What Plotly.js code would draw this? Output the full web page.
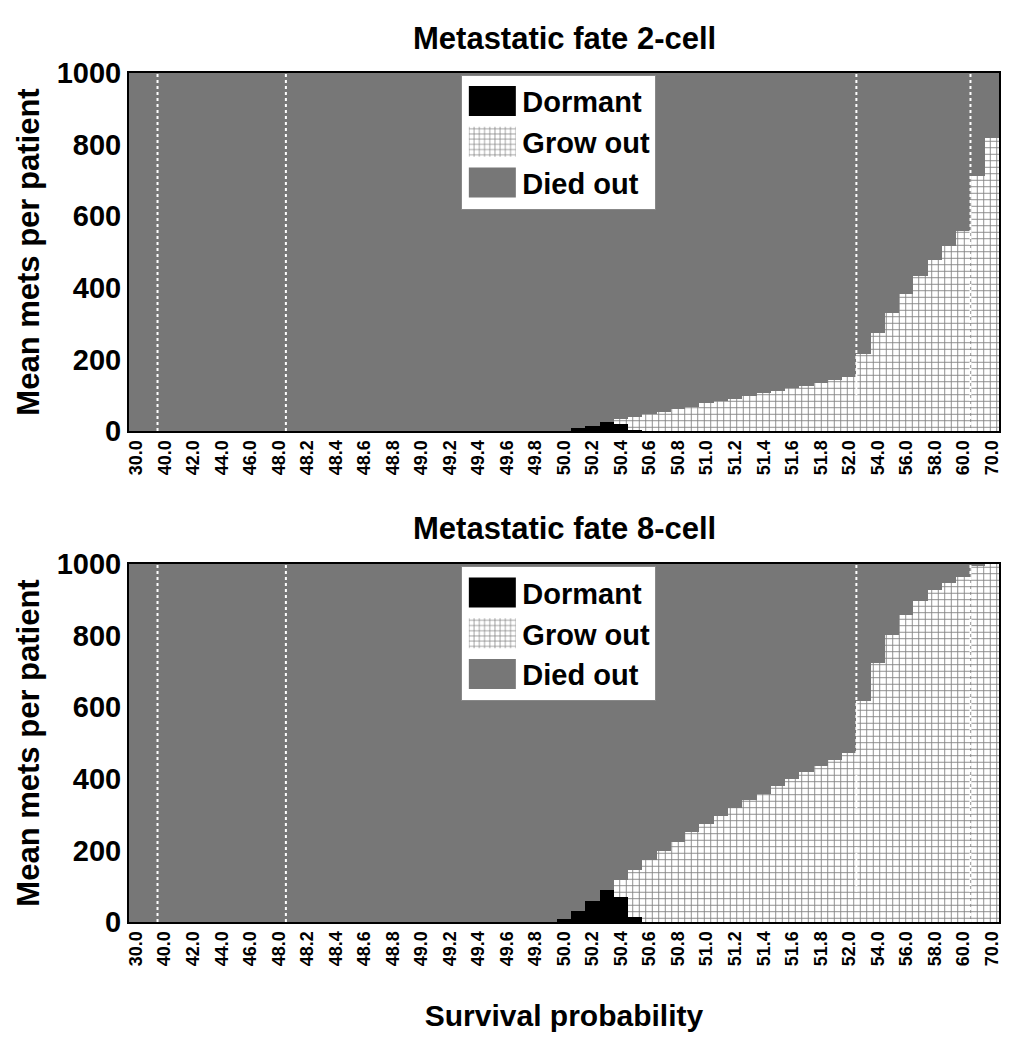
<!DOCTYPE html>
<html>
<head>
<meta charset="utf-8">
<script src="https://cdn.plot.ly/plotly-3.0.1.min.js"></script>
<style>
  html, body { margin: 0; padding: 0; background: #ffffff; }
  #chart { width: 1017px; height: 1050px; }
</style>
</head>
<body>
<div id="chart"></div>
<script>
// ---------- DATA ----------
const categories = [
  '30.0','35.0','40.0','41.0','42.0','43.0','44.0','45.0','46.0','47.0',
  '48.0','48.1','48.2','48.3','48.4','48.5','48.6','48.7','48.8','48.9',
  '49.0','49.1','49.2','49.3','49.4','49.5','49.6','49.7','49.8','49.9',
  '50.0','50.1','50.2','50.3','50.4','50.5','50.6','50.7','50.8','50.9',
  '51.0','51.1','51.2','51.3','51.4','51.5','51.6','51.7','51.8','51.9',
  '52.0','53.0','54.0','55.0','56.0','57.0','58.0','59.0','60.0','65.0','70.0'
];

const tickLabels = [
  '30.0','40.0','42.0','44.0','46.0','48.0','48.2','48.4','48.6','48.8',
  '49.0','49.2','49.4','49.6','49.8','50.0','50.2','50.4','50.6','50.8',
  '51.0','51.2','51.4','51.6','51.8','52.0','54.0','56.0','58.0','60.0','70.0'
];

// categories after which a dotted separator is drawn
const separatorsAfter = ['35.0', '48.0', '52.0', '60.0'];

// Metastatic fate 2-cell
const dormant2 = [
  0,0,0,0,0,0,0,0,0,0,
  0,0,0,0,0,0,0,0,0,0,
  0,0,0,0,0,0,0,0,0,0,
  0,8,15,24,19,3,0,0,0,0,
  0,0,0,0,0,0,0,0,0,0,
  0,0,0,0,0,0,0,0,0,0,0
];
const growOut2 = [
  0,0,0,0,0,0,0,0,0,0,
  0,0,0,0,0,0,0,0,0,0,
  0,0,0,0,0,0,0,0,0,0,
  0,0,0,0,14,37,47,54,61,68,
  77,84,90,98,105,112,119,126,135,142,
  150,215,275,329,383,433,478,517,558,712,818
];
const diedOut2 = [
  1000,1000,1000,1000,1000,1000,1000,1000,1000,1000,
  1000,1000,1000,1000,1000,1000,1000,1000,1000,1000,
  1000,1000,1000,1000,1000,1000,1000,1000,1000,1000,
  1000,992,985,976,967,960,953,946,939,932,
  923,916,910,902,895,888,881,874,865,858,
  850,785,725,671,617,567,522,483,442,288,182
];

// Metastatic fate 8-cell
const dormant8 = [
  0,0,0,0,0,0,0,0,0,0,
  0,0,0,0,0,0,0,0,0,0,
  0,0,0,0,0,0,0,0,0,0,
  9,32,60,90,70,13,0,0,0,0,
  0,0,0,0,0,0,0,0,0,0,
  0,0,0,0,0,0,0,0,0,0,0
];
const growOut8 = [
  0,0,0,0,0,0,0,0,0,0,
  0,0,0,0,0,0,0,0,0,0,
  0,0,0,0,0,0,0,0,0,0,
  0,0,0,0,48,133,173,197,224,250,
  273,297,319,340,358,379,399,418,437,452,
  472,617,724,803,858,896,927,947,964,993,999
];
const diedOut8 = [
  1000,1000,1000,1000,1000,1000,1000,1000,1000,1000,
  1000,1000,1000,1000,1000,1000,1000,1000,1000,1000,
  1000,1000,1000,1000,1000,1000,1000,1000,1000,1000,
  991,968,940,910,882,854,827,803,776,750,
  727,703,681,660,642,621,601,582,563,548,
  528,383,276,197,142,104,73,53,36,7,1
];

const yTicks = [0, 200, 400, 600, 800, 1000];

// ---------- STYLE ----------
const FONT = 'Liberation Sans, Arial, Helvetica, sans-serif';
const GRAY = '#777777';
const growPattern = { shape: '+', bgcolor: '#ffffff', fgcolor: '#808080', size: 6.5, solidity: 0.25 };

function makeTraces(dormant, grow, died, xa, ya, legendId) {
  const common = { type: 'bar', x: categories, xaxis: xa, yaxis: ya, legend: legendId, hoverinfo: 'x+y+name' };
  return [
    Object.assign({}, common, { name: 'Dormant', y: dormant, marker: { color: '#000000', line: { width: 0 } } }),
    Object.assign({}, common, { name: 'Grow out', y: grow, marker: { color: '#ffffff', pattern: growPattern, line: { width: 0 } } }),
    Object.assign({}, common, { name: 'Died out', y: died, marker: { color: GRAY, line: { width: 0 } } })
  ];
}

const data = []
  .concat(makeTraces(dormant2, growOut2, diedOut2, 'x', 'y', 'legend'))
  .concat(makeTraces(dormant8, growOut8, diedOut8, 'x2', 'y2', 'legend2'));

function xAxis(anchor, withTitle) {
  const ax = {
    type: 'category',
    categoryorder: 'array',
    categoryarray: categories,
    tickvals: tickLabels,
    ticktext: tickLabels,
    tickangle: -90,
    tickfont: { family: FONT, size: 18, weight: 'bold', color: '#000' },
    ticks: '',
    showgrid: false,
    zeroline: false,
    showline: true,
    mirror: true,
    linecolor: '#000',
    linewidth: 2,
    anchor: anchor,
    fixedrange: true
  };
  if (withTitle) {
    ax.title = { text: 'Survival probability', font: { family: FONT, size: 30, weight: 'bold', color: '#000' }, standoff: 40 };
  }
  return ax;
}

function yAxis(anchor, domain) {
  return {
    domain: domain,
    range: [0, 1000],
    tickvals: yTicks,
    tickfont: { family: FONT, size: 29, weight: 'bold', color: '#000' },
    ticks: '',
    showgrid: false,
    zeroline: false,
    showline: true,
    mirror: true,
    linecolor: '#000',
    linewidth: 2,
    anchor: anchor,
    fixedrange: true,
    title: { text: 'Mean mets per patient', font: { family: FONT, size: 31, weight: 'bold', color: '#000' }, standoff: 8 }
  };
}

function separatorShapes(xref, yref) {
  return separatorsAfter.map(function (c) {
    const pos = categories.indexOf(c) + 0.5;
    return {
      type: 'line', xref: xref, yref: yref,
      x0: pos, x1: pos, y0: 0, y1: 1000,
      line: { color: '#ffffff', width: 2, dash: 'dot' },
      layer: 'above'
    };
  });
}

const legendStyle = {
  font: { family: FONT, size: 29, weight: 'bold', color: '#000' },
  bgcolor: '#ffffff',
  bordercolor: '#888888',
  borderwidth: 1,
  traceorder: 'normal',
  itemwidth: 50,
  xanchor: 'left',
  yanchor: 'top',
  x: 0.382,
  itemclick: false,
  itemdoubleclick: false
};

const layout = {
  width: 1017,
  height: 1050,
  margin: { l: 129, r: 18, t: 73, b: 128 },
  paper_bgcolor: '#ffffff',
  plot_bgcolor: '#ffffff',
  barmode: 'stack',
  bargap: 0,
  showlegend: true,
  font: { family: FONT, color: '#000' },
  xaxis: xAxis('y', false),
  yaxis: yAxis('x', [0.5783, 1]),
  xaxis2: xAxis('y2', true),
  yaxis2: yAxis('x2', [0, 0.4217]),
  legend: Object.assign({}, legendStyle, { y: 0.998 }),
  legend2: Object.assign({}, legendStyle, { y: 0.419 }),
  shapes: separatorShapes('x', 'y').concat(separatorShapes('x2', 'y2')),
  annotations: [
    { text: 'Metastatic fate 2-cell', xref: 'paper', yref: 'paper', x: 0.5, y: 1.041, xanchor: 'center', yanchor: 'middle', showarrow: false,
      font: { family: FONT, size: 31, weight: 'bold', color: '#000' } },
    { text: 'Metastatic fate 8-cell', xref: 'paper', yref: 'paper', x: 0.5, y: 0.464, xanchor: 'center', yanchor: 'middle', showarrow: false,
      font: { family: FONT, size: 31, weight: 'bold', color: '#000' } }
  ]
};

Plotly.newPlot('chart', data, layout, { displayModeBar: false, staticPlot: true }).then(function () {
  // enlarge legend swatches to match the reference's wide rectangles
  document.querySelectorAll('g.legendpoints path').forEach(function (p) {
    p.setAttribute('d', 'M23.5,15H-23.5V-15H23.5Z');
  });
});
</script>
</body>
</html>
